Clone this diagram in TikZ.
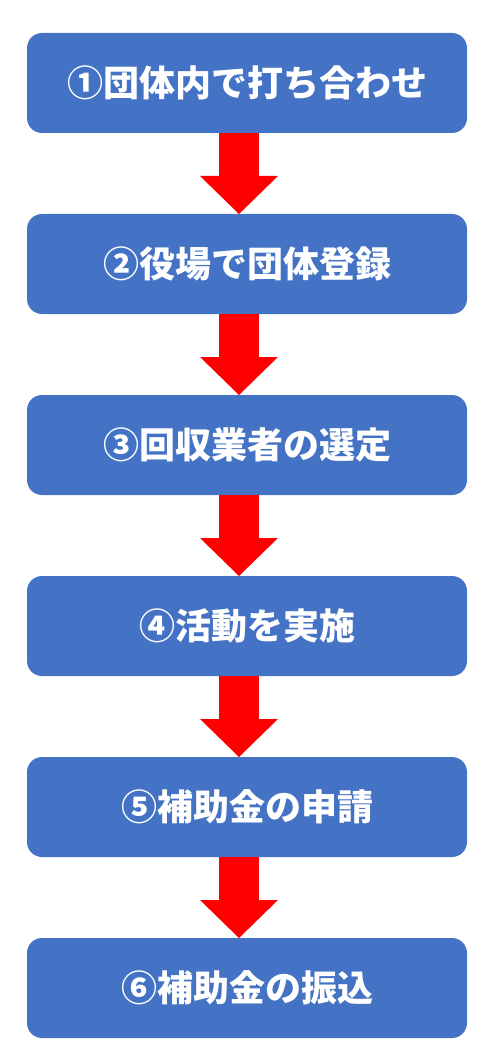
\documentclass[tikz,border=0pt]{standalone}
\usepackage{fontspec}
\setmainfont{Noto Sans CJK JP}
\usepackage{xcolor}
\definecolor{colorStep}{RGB}{68,114,196}
\definecolor{colorFlow}{RGB}{255,0,0}
\usepackage{tikz}
\usetikzlibrary{arrows.meta, positioning}
\tikzset{stepbox/.style={rectangle, rounded corners=15pt, fill=colorStep, text=white, minimum width=440pt, minimum height=100pt, inner sep=0pt, outer sep=0pt, font=\fontsize{36pt}{40pt}\selectfont\bfseries}}
\tikzset{flow/.style={colorFlow, line width=40pt, -{Triangle[length=38pt, width=78pt, line width=0pt]}}}

\begin{document}
\begin{tikzpicture}[x=1pt, y=1pt, node distance=81pt]
\useasboundingbox (0,0) rectangle (492,-1064);
\node[stepbox] (s1) at (247,-83) {①団体内で打ち合わせ};
\node[stepbox, below=of s1] (s2) {②役場で団体登録};
\node[stepbox, below=of s2] (s3) {③回収業者の選定};
\node[stepbox, below=of s3] (s4) {④活動を実施};
\node[stepbox, below=of s4] (s5) {⑤補助金の申請};
\node[stepbox, below=of s5] (s6) {⑥補助金の振込};
\foreach \a/\b in {s1/s2, s2/s3, s3/s4, s4/s5, s5/s6}
  \draw[flow] ([xshift=-8pt]\a.south) -- ([xshift=-8pt]\b.north);
\end{tikzpicture}
\end{document}
